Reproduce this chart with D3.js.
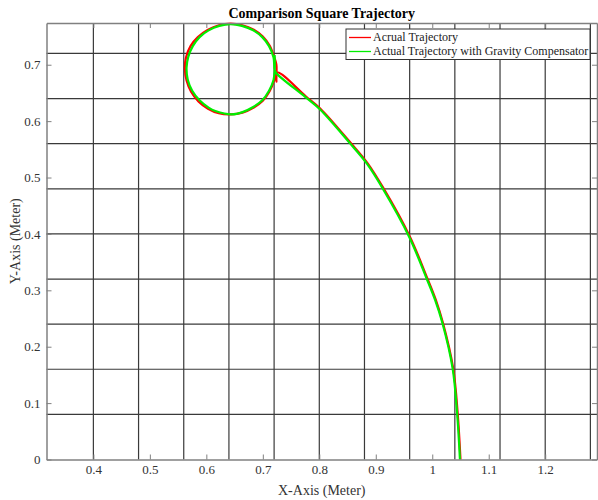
<!DOCTYPE html>
<html lang="en">
<head>
  <meta charset="UTF-8">
  <title>Comparison Square Trajectory</title>
  <script src="https://cdn.jsdelivr.net/npm/d3@7"></script>
  <style>
    * { margin: 0; padding: 0; box-sizing: border-box; }
    body { background: #fff; font-family: "Liberation Serif", "Times New Roman", serif; }
  </style>
</head>
<body>
  <div id="chart"></div>

  <script>
    // Data (x, y in metres)
    const xTicks = [0.4, 0.5, 0.6, 0.7, 0.8, 0.9, 1, 1.1, 1.2];
    const yTicks = [0, 0.1, 0.2, 0.3, 0.4, 0.5, 0.6, 0.7];
    const xGrid = [0.4, 0.48, 0.56, 0.64, 0.72, 0.8, 0.88, 0.96, 1.04, 1.12, 1.2, 1.28];
    const yGrid = [0.08, 0.16, 0.24, 0.32, 0.4, 0.48, 0.56, 0.64, 0.72];

    // actual trajectory: starts at the bottom, climbs the arc, then loops the circle
    const actualX = [1.050, 1.045, 1.037, 1.019, 1.006, 0.991, 0.960, 0.913, 0.885, 0.855, 0.802, 0.776, 0.726,
      0.724, 0.724, 0.720, 0.712, 0.700, 0.684, 0.664, 0.643, 0.622, 0.603, 0.585, 0.572, 0.564, 0.562, 0.565, 0.573, 0.586,
      0.603, 0.622, 0.643, 0.664, 0.684, 0.700, 0.712, 0.720, 0.724];
    const actualY = [0, 0.082, 0.162, 0.242, 0.284, 0.322, 0.396, 0.482, 0.526, 0.562, 0.622, 0.644, 0.686,
      0.670, 0.700, 0.714, 0.734, 0.750, 0.762, 0.770, 0.773, 0.770, 0.762, 0.749, 0.733, 0.713, 0.693, 0.672, 0.652, 0.635,
      0.622, 0.614, 0.612, 0.615, 0.624, 0.636, 0.653, 0.672, 0.690];

    // actual trajectory with gravity compensator
    const compX = [1.049, 1.044, 1.036, 1.018, 1.005, 0.990, 0.959, 0.912, 0.884, 0.854, 0.801, 0.775, 0.724,
      0.721, 0.719, 0.711, 0.699, 0.683, 0.663, 0.643, 0.623, 0.604, 0.588, 0.576, 0.568, 0.565, 0.567, 0.575, 0.588,
      0.604, 0.616, 0.645, 0.664, 0.683, 0.699, 0.711, 0.719, 0.721, 0.721];
    const compY = [0, 0.082, 0.162, 0.242, 0.283, 0.321, 0.395, 0.481, 0.525, 0.561, 0.621, 0.643, 0.685,
      0.691, 0.713, 0.733, 0.749, 0.761, 0.769, 0.772, 0.769, 0.761, 0.749, 0.733, 0.714, 0.695, 0.674, 0.654, 0.637,
      0.624, 0.618, 0.612, 0.616, 0.625, 0.637, 0.654, 0.673, 0.691, 0.717];

    const seriesNames = ["Acrual Trajectory", "Actual Trajectory with Gravity Compensator"];
    const seriesColors = ["#ff0000", "#00ee00"];

    const width = 598, height = 500;
    const margin = { left: 46.5, top: 23, right: 1, bottom: 40.5 };

    const x = d3.scaleLinear().domain([0.317, 1.2917]).range([margin.left, width - margin.right]);
    const y = d3.scaleLinear().domain([0, 0.774]).range([height - margin.bottom, margin.top]);

    const svg = d3.select('#chart').append('svg')
      .attr('width', width)
      .attr('height', height);

    // grid (at 0.08 spacing, not at the ticks)
    svg.append('g').selectAll('line')
      .data(xGrid).join('line')
      .attr('x1', d => x(d)).attr('x2', d => x(d))
      .attr('y1', y(0)).attr('y2', y(0.774))
      .attr('stroke', '#3a3a3a').attr('stroke-width', 1.2);
    svg.append('g').selectAll('line')
      .data(yGrid).join('line')
      .attr('y1', d => y(d)).attr('y2', d => y(d))
      .attr('x1', x(0.317)).attr('x2', x(1.2917))
      .attr('stroke', '#3a3a3a').attr('stroke-width', 1.2);

    // trajectories
    const line = d3.line().x(d => x(d[0])).y(d => y(d[1])).curve(d3.curveCatmullRom);
    const series = [d3.zip(actualX, actualY), d3.zip(compX, compY)];
    svg.append('g').selectAll('path')
      .data(series).join('path')
      .attr('d', line)
      .attr('fill', 'none')
      .attr('stroke', (d, i) => seriesColors[i])
      .attr('stroke-width', 2.2)
      .attr('stroke-linejoin', 'round');

    // axes with inward ticks on all four sides
    const axisStyle = g => {
      g.selectAll('.domain').attr('stroke', '#808080').attr('stroke-width', 1.5);
      g.selectAll('.tick line').attr('stroke', '#808080');
      g.selectAll('.tick text').attr('fill', '#333')
        .style('font-family', '"Liberation Serif", serif').style('font-size', '13px');
    };
    svg.append('g').attr('transform', `translate(0,${y(0)})`)
      .call(d3.axisBottom(x).tickValues(xTicks).tickFormat(d3.format('')).tickSizeInner(-5).tickSizeOuter(0).tickPadding(5))
      .call(axisStyle);
    svg.append('g').attr('transform', `translate(0,${y(0.774)})`)
      .call(d3.axisTop(x).tickValues(xTicks).tickFormat('').tickSizeInner(-5).tickSizeOuter(0))
      .call(axisStyle);
    svg.append('g').attr('transform', `translate(${x(0.317)},0)`)
      .call(d3.axisLeft(y).tickValues(yTicks).tickFormat(d3.format('')).tickSizeInner(-5).tickSizeOuter(0).tickPadding(6))
      .call(axisStyle);
    svg.append('g').attr('transform', `translate(${x(1.2917)},0)`)
      .call(d3.axisRight(y).tickValues(yTicks).tickFormat('').tickSizeInner(-5).tickSizeOuter(0))
      .call(axisStyle);

    // title and axis labels
    svg.append('text')
      .attr('x', (x(0.317) + x(1.2917)) / 2).attr('y', 17.5)
      .attr('text-anchor', 'middle')
      .style('font-size', '14px').style('font-weight', 'bold')
      .text('Comparison Square Trajectory');
    svg.append('text')
      .attr('x', (x(0.317) + x(1.2917)) / 2).attr('y', 495)
      .attr('text-anchor', 'middle')
      .attr('fill', '#333')
      .style('font-size', '14px')
      .text('X-Axis (Meter)');
    svg.append('text')
      .attr('transform', `translate(20,${(y(0) + y(0.774)) / 2}) rotate(-90)`)
      .attr('text-anchor', 'middle')
      .attr('fill', '#333')
      .style('font-size', '14px')
      .text('Y-Axis (Meter)');

    // legend
    const legend = svg.append('g').attr('transform', 'translate(346,29)');
    legend.append('rect')
      .attr('width', 244).attr('height', 30.5)
      .attr('fill', '#fff').attr('stroke', '#333').attr('stroke-width', 1);
    const items = legend.selectAll('g.item')
      .data(seriesNames).join('g')
      .attr('class', 'item')
      .attr('transform', (d, i) => `translate(0,${8.5 + i * 14})`);
    items.append('line')
      .attr('x1', 3).attr('x2', 25)
      .attr('stroke', (d, i) => seriesColors[i]).attr('stroke-width', 1.3);
    items.append('text')
      .attr('x', 27).attr('dy', '0.33em')
      .style('font-size', '12px')
      .attr('fill', '#222')
      .text(d => d);
  </script>
</body>
</html>
